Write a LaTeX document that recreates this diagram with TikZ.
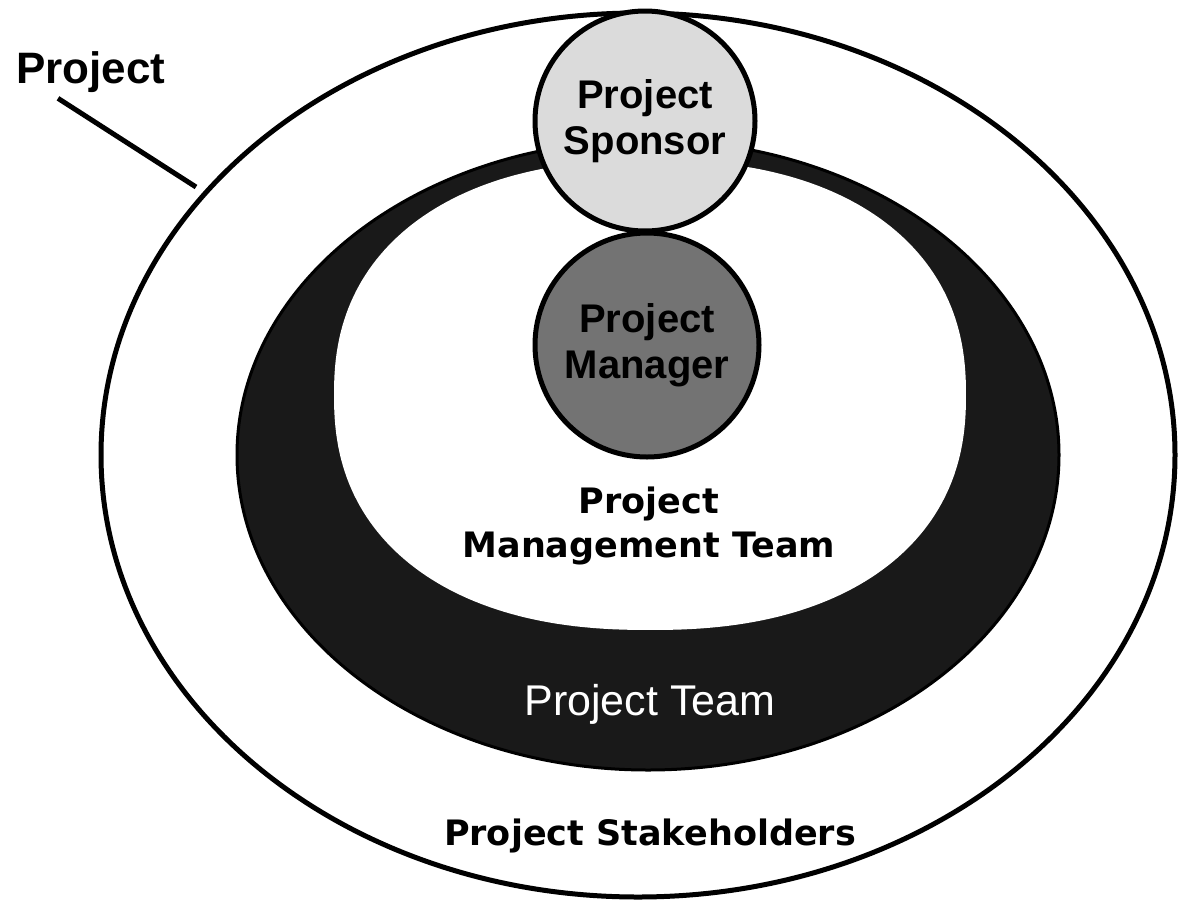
\documentclass[tikz,border=0pt]{standalone}
\usepackage{fontspec}
\setmainfont{Liberation Sans}
\newfontfamily\dejavu{DejaVu Sans}
\definecolor{ringfill}{gray}{0.1}
\definecolor{sponsorfill}{gray}{0.86}
\definecolor{managerfill}{gray}{0.45}
\tikzset{
  outline/.style={draw=black, line width=5pt},
  rolecircle/.style={circle, draw=black, line width=5pt, inner sep=0pt, align=center,
    font=\bfseries\fontsize{40}{46}\selectfont},
  bigtext/.style={inner sep=0pt, align=center, font=\dejavu\bfseries\fontsize{35}{44}\selectfont},
}
\begin{document}
\begin{tikzpicture}[x=1pt, y=-1pt]
\useasboundingbox[fill=white] (0,0) rectangle (1178,903);
% outer ellipse: project stakeholders
\draw[outline, fill=white] (638,455) ellipse [x radius=537pt, y radius=442pt];
% project team ring
\draw[fill=ringfill, draw=black, line width=3pt] (648,455) ellipse [x radius=411pt, y radius=315pt];
% project management team (white inner area)
\fill[white] plot[domain=0.5:360.5, samples=241]
  ({650+316*cos(\x)*exp(-0.13*ln(abs(cos(\x))))}, {395+235*sin(\x)*exp(-0.13*ln(abs(sin(\x))))}) -- cycle;
% circles
\node[rolecircle, fill=managerfill, minimum size=224pt] (manager) at (647,345) {Project\\Manager};
\node[rolecircle, fill=sponsorfill, minimum size=220pt] (sponsor) at (645,121) {Project\\Sponsor};
% labels
\node[bigtext] (pmt) at (649,526) {Project\\Management Team};
\node[inner sep=0pt, anchor=base, text=white, font=\fontsize{43}{48}\selectfont] (team) at (650,715) {Project Team};
\node[bigtext, anchor=base] (stake) at (650,845) {Project Stakeholders};
\node[inner sep=0pt, anchor=base west, font=\bfseries\fontsize{44}{50}\selectfont] (projlabel) at (16,83) {Project};
\coordinate (lead) at (196,187);
\draw[line width=5pt] ([xshift=42pt, yshift=-6pt]projlabel.south west) -- (lead);
\end{tikzpicture}
\end{document}
